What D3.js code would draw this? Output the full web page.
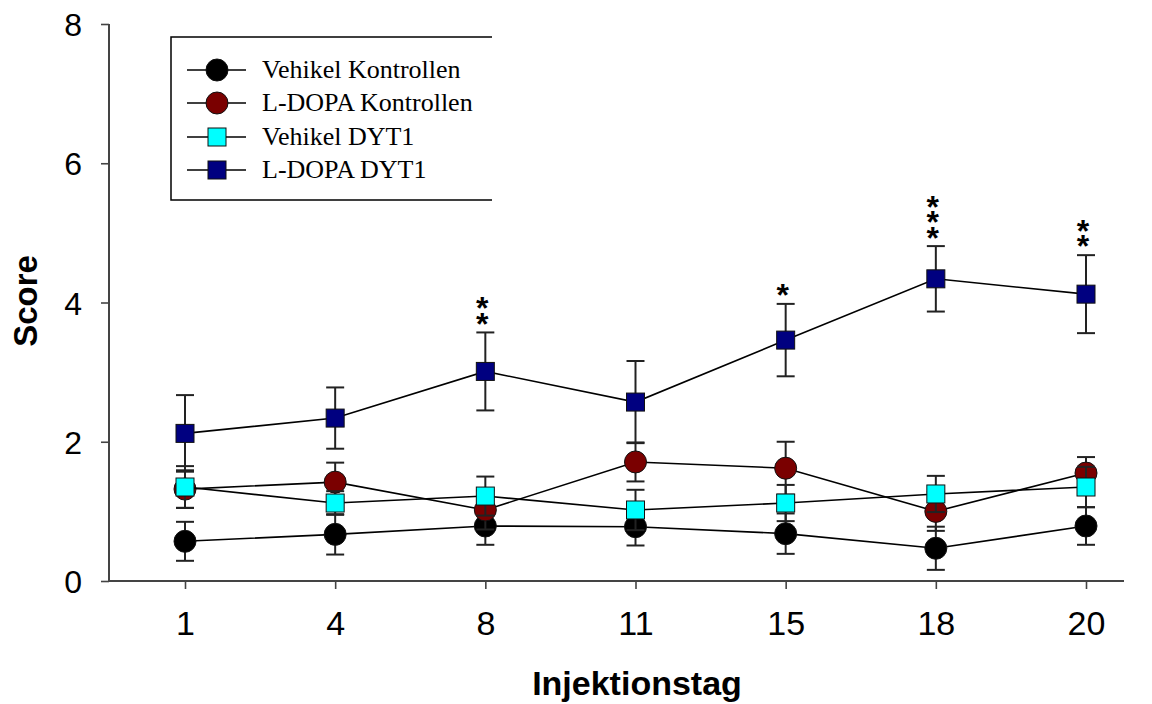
<!DOCTYPE html>
<html>
<head>
<meta charset="utf-8">
<script src="https://cdn.jsdelivr.net/npm/d3@7"></script>
<style>
  html, body { margin: 0; padding: 0; background: #fff; }
  svg { display: block; }
  .stars { writing-mode: vertical-rl; text-orientation: upright; letter-spacing: -20.7px; }
</style>
</head>
<body>
<svg id="chart" width="1152" height="704"></svg>
<script>
// Injection days (categorical, evenly spaced)
const days = ["1", "4", "8", "11", "15", "18", "20"];
const yTicks = [0, 2, 4, 6, 8];

// Mean score and SEM per group
const vehikelKontrollen = [0.57, 0.67, 0.79, 0.78, 0.68, 0.47, 0.79];
const vehikelKontrollenErr = [0.28, 0.29, 0.27, 0.27, 0.29, 0.31, 0.27];
const ldopaKontrollen = [1.32, 1.42, 1.02, 1.71, 1.62, 1.0, 1.55];
const ldopaKontrollenErr = [0.27, 0.28, 0.28, 0.28, 0.38, 0.28, 0.23];
const vehikelDYT1 = [1.35, 1.12, 1.22, 1.02, 1.12, 1.25, 1.35];
const vehikelDYT1Err = [0.30, 0.17, 0.28, 0.29, 0.26, 0.26, 0.29];
const ldopaDYT1 = [2.12, 2.34, 3.01, 2.57, 3.46, 4.34, 4.12];
const ldopaDYT1Err = [0.55, 0.44, 0.56, 0.59, 0.52, 0.47, 0.56];

// Significance marks above L-DOPA DYT1
const signif = ["", "", "**", "", "*", "***", "**"];

const seriesNames = ["Vehikel Kontrollen", "L-DOPA Kontrollen", "Vehikel DYT1", "L-DOPA DYT1"];
const seriesFill = ["#000000", "#7a0000", "#00ffff", "#000080"];
const seriesShape = ["circle", "circle", "square", "square"];

const series = [
  { name: seriesNames[0], values: vehikelKontrollen, errs: vehikelKontrollenErr },
  { name: seriesNames[1], values: ldopaKontrollen, errs: ldopaKontrollenErr },
  { name: seriesNames[2], values: vehikelDYT1, errs: vehikelDYT1Err },
  { name: seriesNames[3], values: ldopaDYT1, errs: ldopaDYT1Err }
].map((s, i) => ({ ...s, fill: seriesFill[i], shape: seriesShape[i] }));

const svg = d3.select("#chart");

const x = d3.scalePoint().domain(days).range([185, 1086]);
const y = d3.scaleLinear().domain([0, 8]).range([581, 24]);
const axisLeft = 109, axisRight = 1124;

const axisColor = "#444";

// Y axis
const gy = svg.append("g").attr("transform", `translate(${axisLeft},0)`)
  .call(d3.axisLeft(y).tickValues(yTicks).tickSize(8).tickPadding(19).tickFormat(d3.format("d")));
gy.select(".domain").remove();
gy.selectAll(".tick line").attr("stroke", axisColor).attr("stroke-width", 1.6);
gy.selectAll(".tick text").attr("font-family", "Liberation Sans, Arial, sans-serif")
  .attr("font-size", 32).attr("fill", "#000").attr("dy", "0.36em");
svg.append("line").attr("x1", axisLeft).attr("x2", axisLeft)
  .attr("y1", y(8)).attr("y2", y(0)).attr("stroke", axisColor).attr("stroke-width", 2);

// X axis
const gx = svg.append("g").attr("transform", `translate(0,${y(0)})`)
  .call(d3.axisBottom(x).tickSize(8).tickPadding(22));
gx.select(".domain").remove();
gx.selectAll(".tick line").attr("stroke", axisColor).attr("stroke-width", 1.6);
gx.selectAll(".tick text").attr("font-family", "Liberation Sans, Arial, sans-serif")
  .attr("font-size", 34).attr("fill", "#000");
svg.append("line").attr("x1", axisLeft).attr("x2", axisRight)
  .attr("y1", y(0)).attr("y2", y(0)).attr("stroke", axisColor).attr("stroke-width", 2);

// Axis titles
svg.append("text").attr("transform", "translate(37,301) rotate(-90)")
  .attr("text-anchor", "middle").attr("font-family", "Liberation Sans, Arial, sans-serif")
  .attr("font-weight", "bold").attr("font-size", 33).text("Score");
svg.append("text").attr("x", 637).attr("y", 695)
  .attr("text-anchor", "middle").attr("font-family", "Liberation Sans, Arial, sans-serif")
  .attr("font-weight", "bold").attr("font-size", 34).text("Injektionstag");

const circleR = 11, squareS = 18, capW = 18;

function drawMarker(g, shape, fill, cx, cy) {
  if (shape === "circle") {
    g.append("circle").attr("cx", cx).attr("cy", cy).attr("r", circleR)
      .attr("fill", fill).attr("stroke", "#111").attr("stroke-width", 1);
  } else {
    g.append("rect").attr("x", cx - squareS / 2).attr("y", cy - squareS / 2)
      .attr("width", squareS).attr("height", squareS)
      .attr("fill", fill).attr("stroke", "#111").attr("stroke-width", 1);
  }
}

const line = d3.line().x((d, i) => x(days[i])).y(d => y(d));

series.forEach(s => {
  const g = svg.append("g");
  // connecting line
  g.append("path").attr("d", line(s.values)).attr("fill", "none")
    .attr("stroke", "#000").attr("stroke-width", 1.6);
  // error bars
  s.values.forEach((v, i) => {
    const cx = x(days[i]);
    const yHi = y(v + s.errs[i]), yLo = y(v - s.errs[i]);
    g.append("line").attr("x1", cx).attr("x2", cx).attr("y1", yHi).attr("y2", yLo)
      .attr("stroke", "#222").attr("stroke-width", 2);
    [yHi, yLo].forEach(cy => g.append("line")
      .attr("x1", cx - capW / 2).attr("x2", cx + capW / 2).attr("y1", cy).attr("y2", cy)
      .attr("stroke", "#222").attr("stroke-width", 2));
  });
  // markers
  s.values.forEach((v, i) => drawMarker(g, s.shape, s.fill, x(days[i]), y(v)));
});

// Significance asterisks, set as one vertical run above the upper error cap
const dyt1 = series[3];
const starStep = 15;
signif.forEach((m, i) => {
  if (!m) return;
  const cx = x(days[i]) - 3;
  const capY = y(dyt1.values[i] + dyt1.errs[i]);
  const topCenter = capY - 15 - (m.length - 1) * starStep;
  svg.append("text").attr("class", "stars")
    .attr("x", cx).attr("y", topCenter - 12)
    .attr("font-family", "Liberation Sans, Arial, sans-serif")
    .attr("font-weight", "bold").attr("font-size", 32).attr("fill", "#000")
    .text(m);
});

// Legend (open on the right side)
const legend = svg.append("g");
legend.append("path").attr("d", "M492,37 H171 V200 H492")
  .attr("fill", "none").attr("stroke", "#000").attr("stroke-width", 1.5);
const rowY = [70, 103, 137, 170];
series.forEach((s, i) => {
  const cy = rowY[i];
  legend.append("line").attr("x1", 187).attr("x2", 246).attr("y1", cy).attr("y2", cy)
    .attr("stroke", "#000").attr("stroke-width", 1.6);
  drawMarker(legend, s.shape, s.fill, 217, cy);
  legend.append("text").attr("x", 262).attr("y", cy + 8)
    .attr("font-family", "Liberation Serif, Times New Roman, serif")
    .attr("font-size", 26).attr("fill", "#000").text(s.name);
});
</script>
</body>
</html>
